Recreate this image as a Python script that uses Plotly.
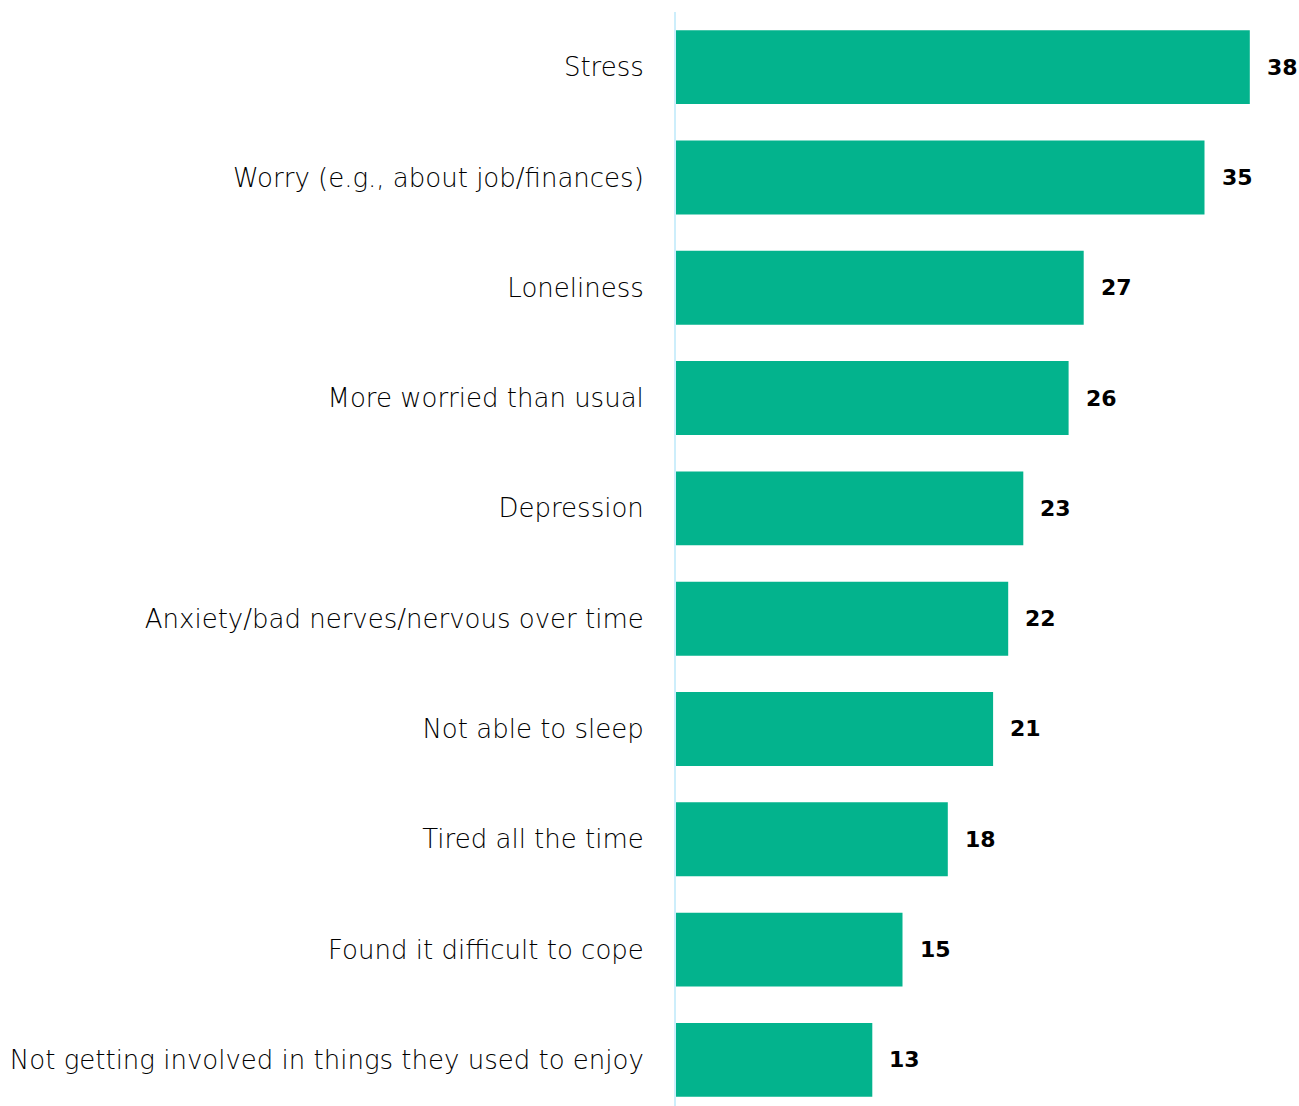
import plotly.graph_objects as go

# Share reporting each mental-health symptom (%)
symptoms = [
    "Stress",
    "Worry (e.g., about job/finances)",
    "Loneliness",
    "More worried than usual",
    "Depression",
    "Anxiety/bad nerves/nervous over time",
    "Not able to sleep",
    "Tired all the time",
    "Found it difficult to cope",
    "Not getting involved in things they used to enjoy",
]
shares = [38, 35, 27, 26, 23, 22, 21, 18, 15, 13]

BAR_COLOR = "#03b38d"
AXIS_COLOR = "#cdeefb"
LABEL_FONT = "DejaVu Sans, sans-serif"

fig = go.Figure(
    go.Bar(
        x=shares,
        y=symptoms,
        orientation="h",
        marker=dict(color=BAR_COLOR, line=dict(width=0)),
        hoverinfo="x+y",
    )
)

# value labels just past the end of each bar
for name, val in zip(symptoms, shares):
    fig.add_annotation(
        x=val, y=name, text=f"<b>{val}</b>",
        xanchor="left", xshift=15, showarrow=False,
        font=dict(family=LABEL_FONT, size=22, color="#000000"),
    )

fig.update_layout(
    width=1299,
    height=1106,
    margin=dict(l=676, r=19, t=12, b=0),
    paper_bgcolor="white",
    plot_bgcolor="white",
    bargap=0.33,
    showlegend=False,
    xaxis=dict(
        range=[0, 40],
        visible=False,
        showgrid=False,
        zeroline=False,
    ),
    yaxis=dict(
        categoryorder="array",
        categoryarray=symptoms,
        range=[9.418, -0.5],
        showgrid=False,
        zeroline=False,
        showline=True,
        linecolor=AXIS_COLOR,
        linewidth=2,
        ticks="",
        ticklabelstandoff=25,
        tickfont=dict(family=LABEL_FONT, size=26, color="#000000", weight=200),
    ),
)

fig.write_html("out.html")
